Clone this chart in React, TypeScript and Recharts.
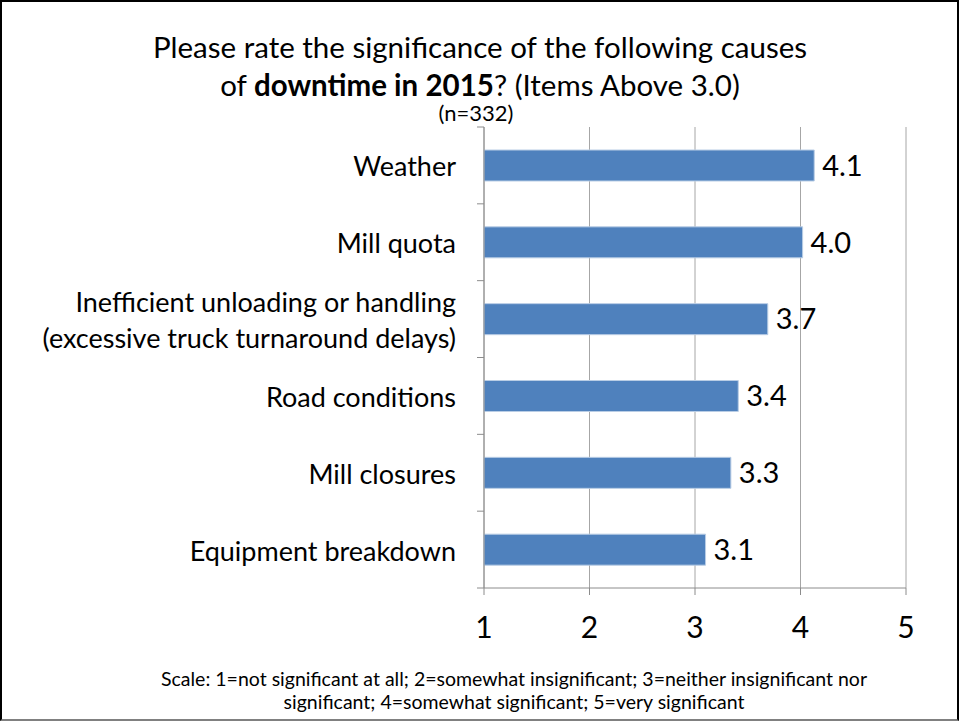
import { BarChart, Bar, XAxis, YAxis, CartesianGrid, LabelList } from 'recharts';

const causes = [
    'Weather',
    'Mill quota',
    'Inefficient unloading or handling\n(excessive truck turnaround delays)',
    'Road conditions',
    'Mill closures',
    'Equipment breakdown',
];
const ratings = [4.13, 4.02, 3.69, 3.41, 3.34, 3.1];
const scaleTicks = [1, 2, 3, 4, 5];

const FONT = 'Lato, "Open Sans", sans-serif';
const W = 959;
const H = 721;
const PLOT_TOP = 127;
const PLOT_BOTTOM = 588;
const AXIS_GRAY = '#8c8c8c';
const Y_TICK_MARGIN = 22;

const data = causes.map((c, i) => ({ name: c, value: ratings[i] }));

// category label + the small tick marks that sit on the band edges
const CauseTick = (props: any) => {
    const { x, y, payload, index } = props;
    const band = (PLOT_BOTTOM - PLOT_TOP) / data.length;
    const axisX = x + Y_TICK_MARGIN + 6;
    const lines = String(payload.value).split('\n');
    const lineH = 36;
    const startY = y - ((lines.length - 1) * lineH) / 2;
    return (
        <g>
            <line x1={axisX - 7} x2={axisX} y1={y - band / 2} y2={y - band / 2} stroke={AXIS_GRAY} />
            {index === data.length - 1 && (
                <line x1={axisX - 7} x2={axisX} y1={y + band / 2} y2={y + band / 2} stroke={AXIS_GRAY} />
            )}
            <text x={x} y={startY} textAnchor="end" dominantBaseline="central" fontSize={27} fill="#000" fontFamily={FONT}>
                {lines.map((l, i) => (
                    <tspan key={i} x={x} y={startY + i * lineH}>{l}</tspan>
                ))}
            </text>
        </g>
    );
};

export default function App() {
    return (
        <div style={{ position: 'absolute', left: 0, top: 0, width: W, height: H, background: '#fff', fontFamily: FONT }}>
            <div style={{ position: 'absolute', left: 0, top: 0, width: W - 4, height: H - 4, border: '2px solid #000', borderBottomColor: '#808080' }} />
            <div style={{ position: 'absolute', left: 0, top: 28, width: 960, textAlign: 'center', fontSize: 29.5, lineHeight: '38px', color: '#000' }}>
                Please rate the significance of the following causes
                <br />
                of <b>downtime in 2015</b>? (Items Above 3.0)
            </div>
            <div style={{ position: 'absolute', left: 0, top: 100, width: 952, textAlign: 'center', fontSize: 22, lineHeight: '26px', color: '#000' }}>
                (n=332)
            </div>

            <div style={{ position: 'absolute', left: 0, top: 0 }}>
                <BarChart
                    width={W}
                    height={H}
                    data={data}
                    layout="vertical"
                    margin={{ top: PLOT_TOP, bottom: 0, left: 0, right: 53 }}
                >
                    <CartesianGrid horizontal={false} stroke="#a6a6a6" />
                    <XAxis
                        type="number"
                        domain={[1, 5]}
                        ticks={scaleTicks}
                        stroke={AXIS_GRAY}
                        tickSize={7}
                        tickMargin={22}
                        height={H - PLOT_BOTTOM}
                        tick={{ fontSize: 30, fill: '#000', fontFamily: FONT }}
                    />
                    <YAxis
                        type="category"
                        dataKey="name"
                        width={484}
                        stroke={AXIS_GRAY}
                        tickLine={false}
                        tickMargin={Y_TICK_MARGIN}
                        tick={<CauseTick />}
                        interval={0}
                    />
                    <Bar dataKey="value" fill="#4f81bd" stroke="#b9cde5" strokeWidth={1} barSize={31} isAnimationActive={false}>
                        <LabelList
                            dataKey="value"
                            position="right"
                            offset={8}
                            formatter={(v: any) => Number(v).toFixed(1)}
                            style={{ fontSize: 29, fill: '#000', fontFamily: FONT }}
                        />
                    </Bar>
                </BarChart>
            </div>

            <div style={{ position: 'absolute', left: 80, top: 667, width: 868, textAlign: 'center', fontSize: 19.5, lineHeight: '23px', color: '#000' }}>
                Scale: 1=not significant at all; 2=somewhat insignificant; 3=neither insignificant nor
                <br />
                significant; 4=somewhat significant; 5=very significant
            </div>
        </div>
    );
}
